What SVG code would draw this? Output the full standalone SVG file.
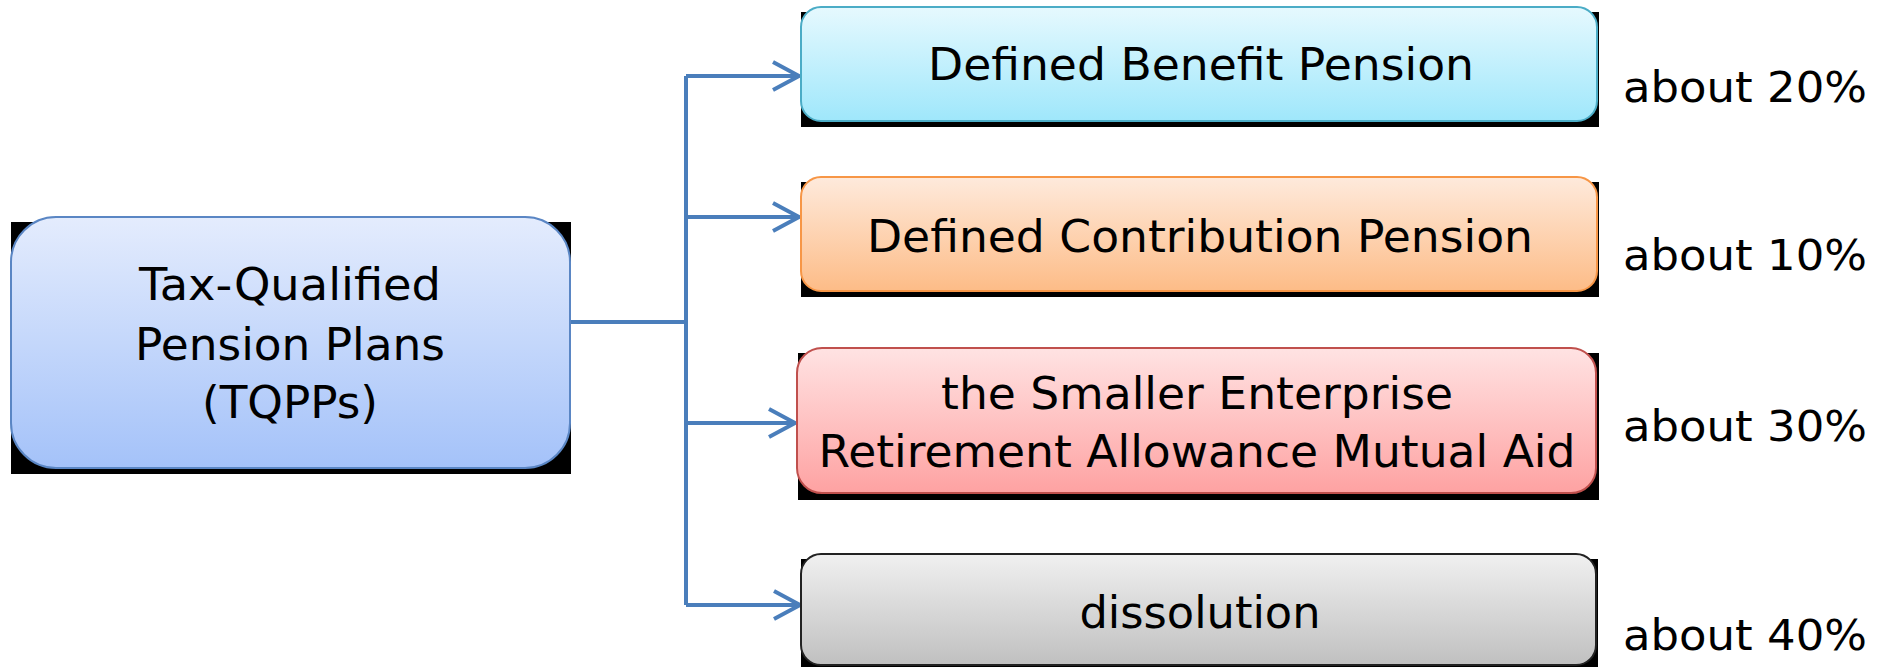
<svg xmlns="http://www.w3.org/2000/svg" width="1885" height="667" viewBox="0 0 1885 667">
<style>
text{font-family:"DejaVu Sans","Liberation Sans",sans-serif;fill:#000;}
.t{font-size:45px;text-anchor:middle;}
.l{font-size:42px;}
.sh{fill:#000;}
.con{fill:none;stroke:#4a7ebb;stroke-width:4;}
</style>
<defs>
<linearGradient id="gL" x1="0" y1="0" x2="0" y2="1"><stop offset="0" stop-color="#e4ecfd"/><stop offset="1" stop-color="#a4c2f9"/></linearGradient>
<linearGradient id="g1" x1="0" y1="0" x2="0" y2="1"><stop offset="0" stop-color="#e6f9fe"/><stop offset="1" stop-color="#9fe7fb"/></linearGradient>
<linearGradient id="g2" x1="0" y1="0" x2="0" y2="1"><stop offset="0" stop-color="#feeadc"/><stop offset="1" stop-color="#fdbc87"/></linearGradient>
<linearGradient id="g3" x1="0" y1="0" x2="0" y2="1"><stop offset="0" stop-color="#ffe3e3"/><stop offset="1" stop-color="#fea2a2"/></linearGradient>
<linearGradient id="g4" x1="0" y1="0" x2="0" y2="1"><stop offset="0" stop-color="#f0f0f0"/><stop offset="1" stop-color="#c0c0c0"/></linearGradient>
<marker id="arr" markerUnits="userSpaceOnUse" markerWidth="40" markerHeight="40" viewBox="-30 -20 34 40" refX="0" refY="0" orient="auto">
<path d="M-26,-14 L0,0 L-26,14" fill="none" stroke="#4a7ebb" stroke-width="4"/>
</marker>
</defs>
<rect width="1885" height="667" fill="#fff"/>
<g id="connectors">
<path class="con" d="M570,322 H686"/>
<path class="con" d="M686,76 V605"/>
<path class="con" d="M686,76 H799" marker-end="url(#arr)"/>
<path class="con" d="M686,217 H799" marker-end="url(#arr)"/>
<path class="con" d="M686,423 H795" marker-end="url(#arr)"/>
<path class="con" d="M686,605 H800" marker-end="url(#arr)"/>
</g>
<g id="tqpp">
<rect class="sh" x="11" y="222" width="560" height="252"/>
<rect x="11" y="217" width="559" height="251" rx="45" ry="45" fill="url(#gL)" stroke="#5a86c4" stroke-width="2"/>
<text class="t" x="290" y="300" font-size="44" textLength="302" lengthAdjust="spacingAndGlyphs" style="font-size:44px">Tax-Qualified</text>
<text class="t" x="290" y="360" textLength="310" lengthAdjust="spacingAndGlyphs" style="font-size:44px">Pension Plans</text>
<text class="t" x="290" y="418" textLength="176" lengthAdjust="spacingAndGlyphs" style="font-size:44px">(TQPPs)</text>
</g>
<g id="db">
<rect class="sh" x="801" y="12" width="798" height="115"/>
<rect x="801" y="7" width="796" height="114" rx="20" ry="20" fill="url(#g1)" stroke="#4bacc6" stroke-width="2"/>
<text class="t" x="1201" y="80" textLength="546" lengthAdjust="spacingAndGlyphs">Defined Benefit Pension</text>
</g>
<g id="dc">
<rect class="sh" x="801" y="182" width="798" height="115"/>
<rect x="801" y="177" width="796" height="114" rx="20" ry="20" fill="url(#g2)" stroke="#f79646" stroke-width="2"/>
<text class="t" x="1200" y="252" textLength="666" lengthAdjust="spacingAndGlyphs">Defined Contribution Pension</text>
</g>
<g id="serama">
<rect class="sh" x="798" y="353" width="801" height="147"/>
<rect x="797" y="348" width="799" height="145" rx="25" ry="25" fill="url(#g3)" stroke="#c0504d" stroke-width="2"/>
<text class="t" x="1197" y="409" textLength="512" lengthAdjust="spacingAndGlyphs">the Smaller Enterprise</text>
<text class="t" x="1197" y="467" textLength="757" lengthAdjust="spacingAndGlyphs">Retirement Allowance Mutual Aid</text>
</g>
<g id="dissolution">
<rect class="sh" x="801" y="559" width="797" height="108"/>
<rect x="801" y="554" width="795" height="111" rx="20" ry="20" fill="url(#g4)" stroke="#222" stroke-width="2"/>
<text class="t" x="1200" y="628" textLength="241" lengthAdjust="spacingAndGlyphs">dissolution</text>
</g>
<g id="labels">
<text class="l" x="1623" y="102" textLength="244" lengthAdjust="spacingAndGlyphs">about 20%</text>
<text class="l" x="1623" y="270" textLength="244" lengthAdjust="spacingAndGlyphs">about 10%</text>
<text class="l" x="1623" y="441" textLength="244" lengthAdjust="spacingAndGlyphs">about 30%</text>
<text class="l" x="1623" y="650" textLength="244" lengthAdjust="spacingAndGlyphs">about 40%</text>
</g>
</svg>
